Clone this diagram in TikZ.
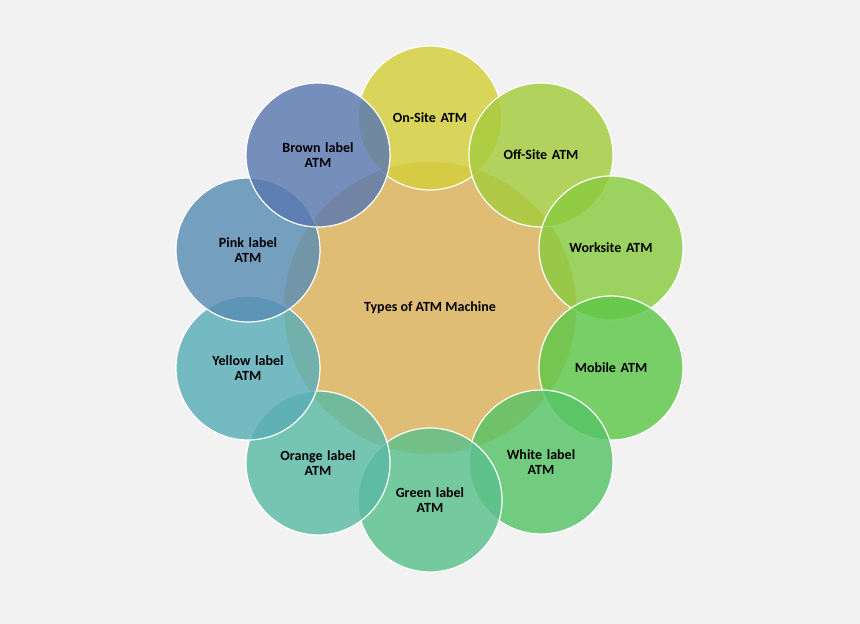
\documentclass[tikz,border=0pt]{standalone}
\usepackage{fontspec}
\setmainfont{Carlito}
\begin{document}
\begin{tikzpicture}[x=1pt,y=-1pt,
  bub/.style={circle,minimum size=144pt,inner sep=0pt,draw=white,line width=1.2pt,fill opacity=0.82,text opacity=1,align=center,font=\fontsize{14}{15}\selectfont\bfseries,text width=100pt},
  ctr/.style={circle,minimum size=292pt,inner sep=0pt,fill opacity=0.85,text opacity=1,font=\fontsize{14}{15}\selectfont\bfseries}]
\fill[white!95!black] (0,0) rectangle (860,624);
\node[ctr,fill={rgb,255:red,222;green,180;blue,96}] (c) at (430,308) {Types of ATM Machine};
\node[bub,fill={rgb,255:red,212;green,207;blue,58}] (n1) at (430,118) {On-Site ATM};
\node[bub,fill={rgb,255:red,165;green,204;blue,62}] (n2) at (541,155) {Off-Site ATM};
\node[bub,fill={rgb,255:red,138;green,203;blue,63}] (n3) at (611,248) {Worksite ATM};
\node[bub,fill={rgb,255:red,94;green,200;blue,74}] (n4) at (611,368) {Mobile ATM};
\node[bub,fill={rgb,255:red,87;green,196;blue,102}] (n5) at (541,462) {White label\\ATM};
\node[bub,fill={rgb,255:red,90;green,192;blue,141}] (n6) at (430,500) {Green label\\ATM};
\node[bub,fill={rgb,255:red,91;green,186;blue,165}] (n7) at (318,463) {Orange label\\ATM};
\node[bub,fill={rgb,255:red,90;green,174;blue,184}] (n8) at (248,368) {Yellow label\\ATM};
\node[bub,fill={rgb,255:red,90;green,141;blue,180}] (n9) at (248,250) {Pink label\\ATM};
\node[bub,fill={rgb,255:red,90;green,120;blue,176}] (n10) at (318,155) {Brown label\\ATM};
\end{tikzpicture}
\end{document}
